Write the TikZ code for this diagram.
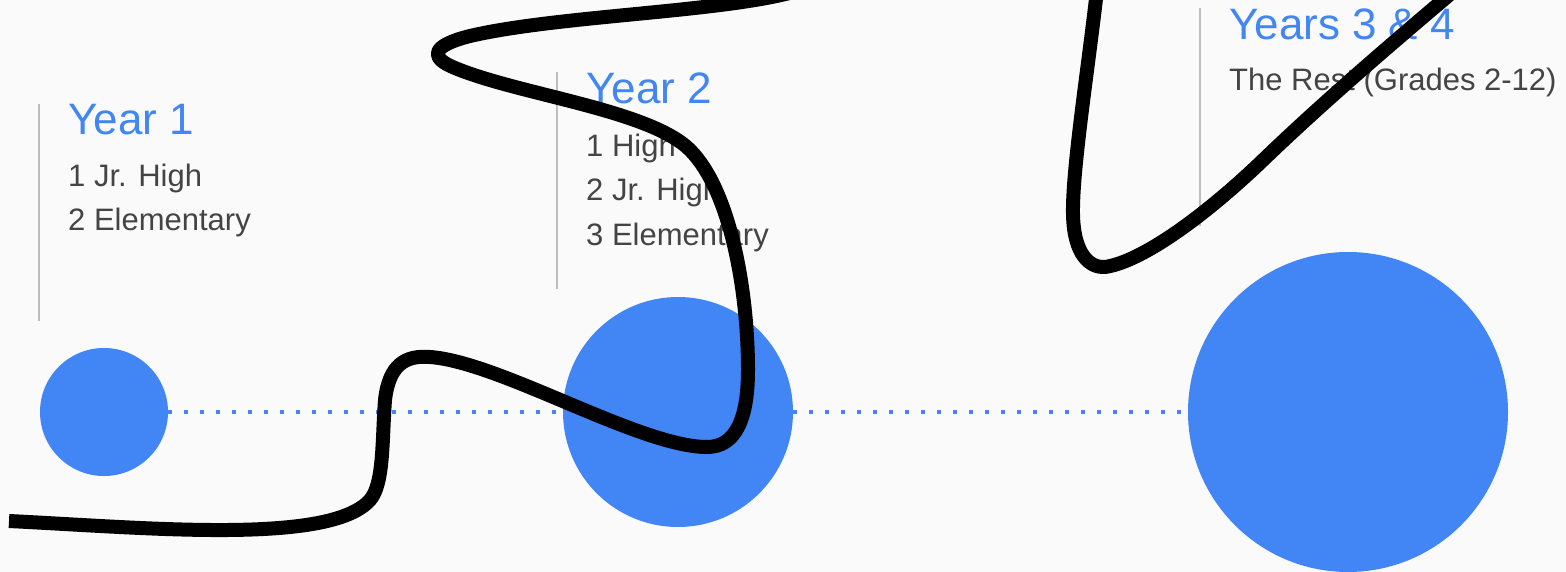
\documentclass[tikz,border=0pt]{standalone}
\usepackage{fontspec}
\setmainfont{Liberation Sans}
\definecolor{gblue}{HTML}{4285F4}
\definecolor{gtext}{HTML}{444444}
\definecolor{gline}{HTML}{BDBDBD}
\definecolor{gbg}{HTML}{FAFAFA}
\tikzset{
  yearcircle/.style={circle, fill=gblue, draw=none, inner sep=0pt},
  titletext/.style={anchor=base west, inner sep=0pt, text=gblue, font=\fontsize{44}{50}\selectfont},
  bodytext/.style={anchor=base west, inner sep=0pt, text=gtext, font=\fontsize{31}{44}\selectfont},
  dotline/.style={gblue, line width=4pt, dash pattern=on 4pt off 12pt},
  rule/.style={gline, line width=2pt},
  scribble/.style={black, line width=14pt, line join=round}
}
\begin{document}
\begin{tikzpicture}[x=1pt, y=-1pt]
\fill[gbg] (0,0) rectangle (1566,572);
\useasboundingbox (0,0) rectangle (1566,572);
\clip (0,0) rectangle (1566,572);

% circles
\node[yearcircle, minimum size=128pt] (c1) at (104,412) {};
\node[yearcircle, minimum size=230pt] (c2) at (678,412) {};
\node[yearcircle, minimum size=320pt] (c3) at (1348,412) {};
\draw[dotline] (c1.east) -- (c2.west);
\draw[dotline] (c2.east) -- (c3.west);

% rules
\coordinate (r1a) at (39,104); \coordinate (r1b) at (39,321);
\coordinate (r2a) at (557,72); \coordinate (r2b) at (557,289);
\coordinate (r3a) at (1200,8); \coordinate (r3b) at (1200,226);
\draw[rule] (r1a) -- (r1b);
\draw[rule] (r2a) -- (r2b);
\draw[rule] (r3a) -- (r3b);

% texts
\node[titletext] (t1) at (68,135) {Year 1};
\node[bodytext] (t1a) at (68,187) {1 Jr. High};
\node[bodytext] (t1b) at (68,231) {2 Elementary};

\node[titletext] (t2) at (586,104) {Year 2};
\node[bodytext] (t2a) at (586,157) {1 High};
\node[bodytext] (t2b) at (586,201) {2 Jr. High};
\node[bodytext] (t2c) at (586,245) {3 Elementary};

\node[titletext] (t3) at (1229,40) {Years 3 \& 4};
\node[bodytext] (t3a) at (1229,91) {The Rest (Grades 2-12)};

% scribble
\coordinate (s0) at (9,521);
\coordinate (s1) at (370,500);
\coordinate (s2) at (385,400);
\coordinate (s3) at (430,357);
\coordinate (s4) at (707,447);
\coordinate (s5) at (748,370);
\coordinate (s6) at (690,150);
\coordinate (s7) at (455,68);
\coordinate (s8) at (470,36);
\coordinate (s9) at (800,-10);
\draw[scribble] (s0)
  .. controls (150,528) and (330,545) .. (s1)
  .. controls (384,484) and (382,440) .. (s2)
  .. controls (389,365) and (405,355) .. (s3)
  .. controls (500,362) and (640,447) .. (s4)
  .. controls (735,447) and (748,420) .. (s5)
  .. controls (748,290) and (730,190) .. (s6)
  .. controls (650,110) and (520,95) .. (s7)
  .. controls (430,58) and (430,46) .. (s8)
  .. controls (560,15) and (730,12) .. (s9);

\coordinate (u0) at (1097,-10);
\coordinate (u1) at (1073,215);
\coordinate (u2) at (1105,267);
\coordinate (u3) at (1260,163);
\coordinate (u4) at (1455,-10);
\draw[scribble] (u0)
  .. controls (1088,70) and (1072,170) .. (u1)
  .. controls (1074,255) and (1090,268) .. (u2)
  .. controls (1140,262) and (1200,220) .. (u3)
  .. controls (1320,105) and (1390,45) .. (u4);
\end{tikzpicture}
\end{document}
